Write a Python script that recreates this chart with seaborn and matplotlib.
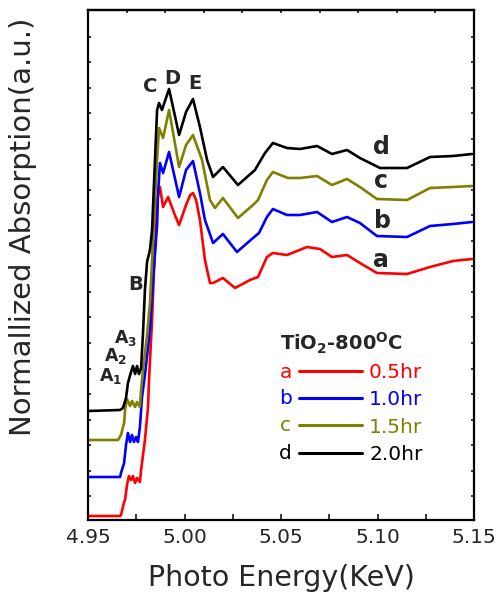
"""
Ti K-edge XANES of TiO2 annealed at 800 C for different times.
Curves are stacked with an offset, values read from the figure (a.u.).
"""
import numpy as np
import pandas as pd
import matplotlib
matplotlib.use("Agg")
import matplotlib.pyplot as plt
import seaborn as sns

# ============================
# Data (energy in keV, normalized absorption in a.u., offset included)
# ============================
energy_a = [4.9500, 4.9666, 4.9671, 4.9687, 4.9692, 4.9702, 4.9712, 4.9723, 4.9733,
            4.9744, 4.9754, 4.9769, 4.9775, 4.9795, 4.9811, 4.9816, 4.9832, 4.9842,
            4.9852, 4.9858, 4.9873, 4.9889, 4.9915, 4.9950, 4.9972, 5.0008, 5.0030,
            5.0044, 5.0060, 5.0080, 5.0106, 5.0132, 5.0148, 5.0199, 5.0262, 5.0339,
            5.0381, 5.0427, 5.0458, 5.0531, 5.0635, 5.0702, 5.0764, 5.0842, 5.0909,
            5.0997, 5.1153, 5.1272, 5.1391, 5.1490]
absorb_a = [0.04, 0.04, 0.05, 0.18, 0.20, 0.35, 0.44, 0.40, 0.44,
            0.37, 0.42, 0.38, 0.50, 0.80, 1.13, 1.40, 2.00, 2.50,
            2.90, 3.20, 3.33, 3.13, 3.23, 3.05, 2.95, 3.15, 3.25,
            3.27, 3.20, 3.00, 2.60, 2.37, 2.37, 2.42, 2.32, 2.40,
            2.43, 2.63, 2.67, 2.65, 2.73, 2.71, 2.63, 2.65, 2.57,
            2.47, 2.46, 2.53, 2.59, 2.61]

energy_b = [4.9500, 4.9666, 4.9671, 4.9687, 4.9697, 4.9707, 4.9718, 4.9728, 4.9738,
            4.9749, 4.9759, 4.9769, 4.9780, 4.9795, 4.9821, 4.9837, 4.9858, 4.9863,
            4.9873, 4.9889, 4.9920, 4.9972, 5.0008, 5.0044, 5.0080, 5.0106, 5.0148,
            5.0199, 5.0272, 5.0355, 5.0386, 5.0427, 5.0458, 5.0531, 5.0598, 5.0687,
            5.0764, 5.0842, 5.0909, 5.0997, 5.1153, 5.1272, 5.1391, 5.1490]
absorb_b = [0.43, 0.43, 0.47, 0.57, 0.75, 0.87, 0.78, 0.85, 0.78,
            0.83, 0.78, 0.93, 1.23, 1.45, 1.90, 2.40, 2.95, 3.27,
            3.57, 3.47, 3.68, 3.23, 3.50, 3.59, 3.27, 3.00, 2.77,
            2.86, 2.68, 2.82, 2.87, 3.03, 3.11, 3.05, 3.05, 3.08,
            2.98, 3.03, 2.97, 2.84, 2.83, 2.94, 2.96, 2.98]

energy_c = [4.9500, 4.9655, 4.9671, 4.9687, 4.9692, 4.9702, 4.9718, 4.9728, 4.9744,
            4.9754, 4.9769, 4.9775, 4.9785, 4.9806, 4.9821, 4.9837, 4.9858, 4.9868,
            4.9889, 4.9920, 4.9972, 5.0008, 5.0044, 5.0091, 5.0132, 5.0158, 5.0199,
            5.0277, 5.0355, 5.0381, 5.0427, 5.0458, 5.0536, 5.0598, 5.0687, 5.0764,
            5.0842, 5.0909, 5.0997, 5.1153, 5.1272, 5.1391, 5.1490]
absorb_c = [0.80, 0.80, 0.85, 0.97, 1.10, 1.21, 1.14, 1.19, 1.13,
            1.18, 1.13, 1.30, 1.50, 1.85, 2.17, 2.80, 3.60, 3.92,
            3.82, 4.10, 3.53, 3.75, 3.85, 3.60, 3.20, 3.12, 3.22,
            3.02, 3.15, 3.20, 3.40, 3.48, 3.42, 3.42, 3.44, 3.35,
            3.41, 3.33, 3.21, 3.20, 3.32, 3.33, 3.34]

energy_d = [4.9500, 4.9666, 4.9681, 4.9697, 4.9707, 4.9723, 4.9733, 4.9744, 4.9754,
            4.9764, 4.9775, 4.9785, 4.9795, 4.9806, 4.9821, 4.9832, 4.9847, 4.9858,
            4.9868, 4.9883, 4.9920, 4.9972, 5.0008, 5.0044, 5.0080, 5.0117, 5.0148,
            5.0199, 5.0277, 5.0365, 5.0417, 5.0458, 5.0531, 5.0598, 5.0687, 5.0764,
            5.0842, 5.0909, 5.1013, 5.1153, 5.1272, 5.1391, 5.1490]
absorb_d = [1.09, 1.10, 1.12, 1.22, 1.37, 1.48, 1.54, 1.46, 1.54,
            1.46, 1.52, 1.87, 2.30, 2.58, 2.70, 2.90, 3.60, 4.10,
            4.17, 4.10, 4.31, 3.85, 4.08, 4.21, 3.93, 3.60, 3.43,
            3.53, 3.35, 3.50, 3.67, 3.77, 3.72, 3.71, 3.74, 3.66,
            3.70, 3.62, 3.52, 3.52, 3.63, 3.64, 3.66]

samples = ["a", "b", "c", "d"]
durations = ["0.5hr", "1.0hr", "1.5hr", "2.0hr"]
colors = ["#ff0000", "#0000ff", "#808000", "#000000"]

# peak / feature labels
feature_labels = ["C", "D", "E", "B"]
feature_x = [4.9823, 4.9935, 5.0054, 4.9746]
feature_y = [4.33, 4.42, 4.36, 2.36]

pre_edge_labels = [r"$\mathbf{A_3}$", r"$\mathbf{A_2}$", r"$\mathbf{A_1}$"]
pre_edge_x = [4.9694, 4.9640, 4.9619]
pre_edge_y = [1.82, 1.64, 1.44]

curve_label_x = [5.1020, 5.1028, 5.1020, 5.1020]
curve_label_y = [2.60, 2.985, 3.385, 3.725]

# ============================
# Long-form table for seaborn
# ============================
df = pd.concat([
    pd.DataFrame({"energy": energy_a, "absorption": absorb_a, "sample": "a"}),
    pd.DataFrame({"energy": energy_b, "absorption": absorb_b, "sample": "b"}),
    pd.DataFrame({"energy": energy_c, "absorption": absorb_c, "sample": "c"}),
    pd.DataFrame({"energy": energy_d, "absorption": absorb_d, "sample": "d"}),
], ignore_index=True)

# ============================
# Plot
# ============================
sns.set_style("ticks")
plt.rcParams["font.family"] = ["DejaVu Sans"]
plt.rcParams["mathtext.fontset"] = "dejavusans"

fig = plt.figure(figsize=(4.98, 5.96), dpi=100)
ax = fig.add_axes([88 / 498, 76 / 596, 386 / 498, 510 / 596])

sns.lineplot(data=df, x="energy", y="absorption", hue="sample",
             hue_order=samples, palette=colors, sort=False, estimator=None,
             linewidth=1.9, legend=False, ax=ax)
for line in ax.get_lines():
    line.set_solid_joinstyle("round")

ax.set_xlim(4.95, 5.15)
ax.set_ylim(0, 5.10)

ax.set_xticks(np.arange(4.95, 5.151, 0.05))
ax.set_xticks(np.arange(4.975, 5.15, 0.05), minor=True)
ax.set_xticklabels(["4.95", "5.00", "5.05", "5.10", "5.15"])
ax.set_yticks(np.arange(0.24, 5.0, 0.255))
ax.set_yticklabels([])
ax.tick_params(axis="x", which="both", direction="in", length=4, width=1.3,
               labelsize=14.5, pad=6, top=False)
ax.tick_params(axis="y", which="both", direction="in", length=2.5, width=1.3,
               left=True, right=True)

top = ax.secondary_xaxis("top")
top.set_xticks(np.arange(4.97, 5.131, 0.02))
top.tick_params(direction="in", length=2.5, width=1.3, labeltop=False)
top.spines["top"].set_linewidth(1.6)

for side in ["left", "right", "top", "bottom"]:
    ax.spines[side].set_visible(True)
    ax.spines[side].set_linewidth(1.6)
    ax.spines[side].set_color("black")

ax.set_xlabel("Photo Energy(KeV)", fontsize=20.5)
ax.set_ylabel("Normallized Absorption(a.u.)", fontsize=21)
ax.xaxis.set_label_coords(0.5, -0.086)
ax.xaxis.label.set_va("top")
ax.yaxis.set_label_coords(-0.132, 0.575)

# feature labels
for lab, x, y in zip(feature_labels, feature_x, feature_y):
    ax.text(x, y, lab, fontsize=14, fontweight="bold", ha="center", va="center")
for lab, x, y in zip(pre_edge_labels, pre_edge_x, pre_edge_y):
    ax.text(x, y, lab, fontsize=12.5, ha="center", va="center")
for lab, x, y in zip(samples, curve_label_x, curve_label_y):
    ax.text(x, y, lab, fontsize=17, fontweight="bold", ha="center", va="center")

# legend
handles = ax.get_lines()[:4]
leg = ax.legend(handles, durations, loc="upper left",
                bbox_to_anchor=(0.5455, 0.307), frameon=False,
                fontsize=14.5, handlelength=3.15, handletextpad=0.35,
                labelspacing=0.4, borderpad=0, borderaxespad=0,
                labelcolor="linecolor")
for line in leg.get_lines():
    line.set_linewidth(2.2)

ax.text(0.497, 0.333, r"TiO$_\mathbf{2}$-800$^\mathbf{O}$C", transform=ax.transAxes,
        fontsize=14, fontweight="bold", ha="left", va="baseline")
row_y = [0.290, 0.239, 0.186, 0.130]
for lab, y, c in zip(samples, row_y, colors):
    ax.text(0.512, y, lab, transform=ax.transAxes, fontsize=14.5, color=c,
            ha="center", va="center")

fig.savefig("out.png", dpi=100)
